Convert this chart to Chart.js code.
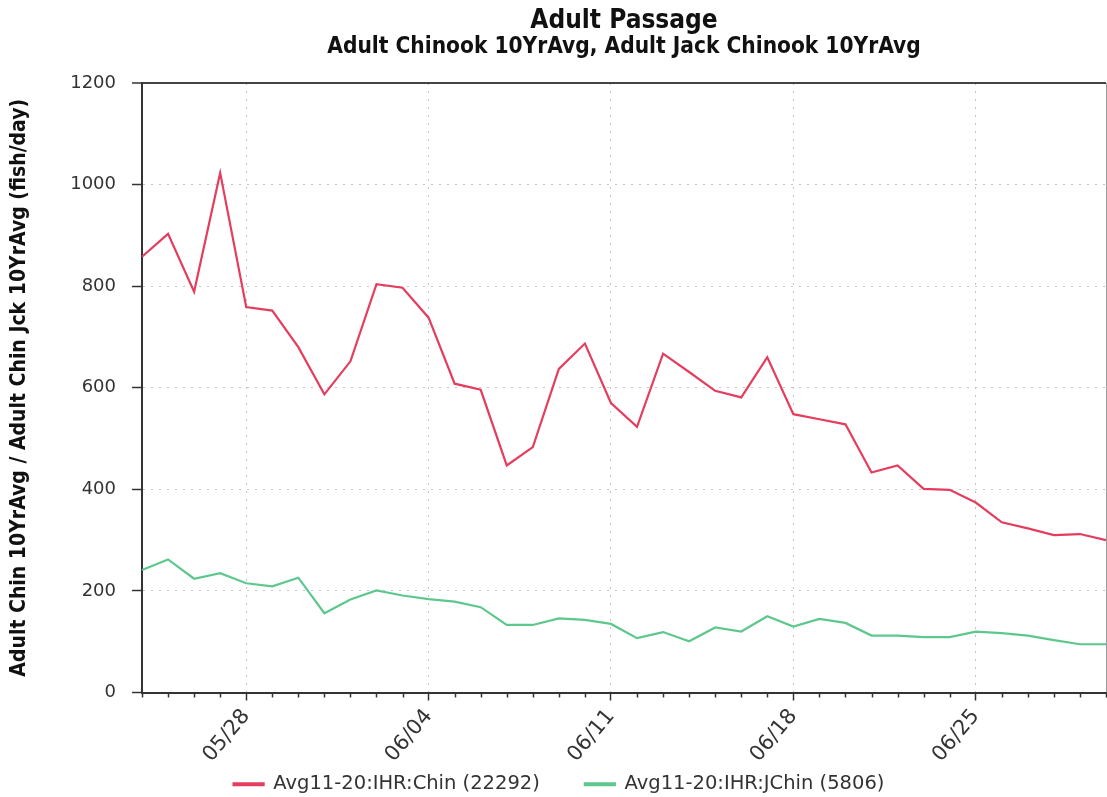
<!DOCTYPE html>
<html>
<head>
<meta charset="utf-8">
<script src="https://cdn.jsdelivr.net/npm/chart.js@4.4.0/dist/chart.umd.min.js"></script>
<style>
  html, body { margin: 0; padding: 0; background: #ffffff; }
  canvas { display: block; }
</style>
</head>
<body>
<canvas id="passage" width="1107" height="797"></canvas>
<script>
// Daily dates, 05/24 through 06/30
const days = [
  '05/24','05/25','05/26','05/27','05/28','05/29','05/30','05/31',
  '06/01','06/02','06/03','06/04','06/05','06/06','06/07','06/08',
  '06/09','06/10','06/11','06/12','06/13','06/14','06/15','06/16',
  '06/17','06/18','06/19','06/20','06/21','06/22','06/23','06/24',
  '06/25','06/26','06/27','06/28','06/29','06/30'
];

// Adult Chinook, 2011-2020 average (fish/day)
const chinook = [
  858, 903, 789, 1023, 759, 752, 680, 587,
  652, 804, 797, 738, 608, 596, 447, 483,
  637, 687, 570, 523, 667, 631, 594, 581,
  660, 548, 538, 528, 433, 447, 401, 399,
  374, 335, 323, 310, 312, 300
];

// Jack Chinook, 2011-2020 average (fish/day)
const jackChinook = [
  241, 262, 224, 235, 215, 209, 226, 156,
  183, 201, 191, 184, 179, 168, 133, 133,
  146, 143, 135, 107, 119, 101, 128, 120,
  150, 130, 145, 137, 112, 112, 109, 109,
  120, 117, 112, 103, 95, 95
];

// Dates that get a label, a long tick and a vertical grid line
const majorDays = ['05/28', '06/04', '06/11', '06/18', '06/25'];

const seriesNames = ['Avg11-20:IHR:Chin (22292)', 'Avg11-20:IHR:JChin (5806)'];
const yMin = 0, yMax = 1200, yStep = 200;

const RED = '#e43d5e';
const GREEN = '#5ec78e';
const SANS = "'DejaVu Sans', sans-serif";
const COND = "'DejaVu Sans Condensed', 'DejaVu Sans', sans-serif";

const isMajor = (i) => majorDays.includes(days[i]);

// Short daily ticks between the labelled dates
const minorTicks = {
  id: 'minorTicks',
  afterDraw(chart) {
    const xs = chart.scales.x;
    const ctx = chart.ctx;
    ctx.save();
    ctx.strokeStyle = '#333333';
    ctx.lineWidth = 1.5;
    xs.ticks.forEach((t, i) => {
      if (isMajor(i)) return;
      const px = Math.round(xs.getPixelForTick(i)) + 0.5;
      ctx.beginPath();
      ctx.moveTo(px, xs.top);
      ctx.lineTo(px, xs.top + 5);
      ctx.stroke();
    });
    ctx.restore();
  }
};

// The slanted date labels hang below the (short) x-axis box; let them
// draw past it instead of being clipped to it.
const unclipDateLabels = {
  id: 'unclipDateLabels',
  afterLayout(chart) {
    chart.scales.x._computeLabelArea = () => undefined;
  }
};

new Chart(document.getElementById('passage'), {
  type: 'line',
  data: {
    labels: days,
    datasets: [
      {
        label: seriesNames[0],
        data: chinook,
        borderColor: RED,
        backgroundColor: RED,
        borderWidth: 2.2,
        pointRadius: 0,
        tension: 0
      },
      {
        label: seriesNames[1],
        data: jackChinook,
        borderColor: GREEN,
        backgroundColor: GREEN,
        borderWidth: 2.2,
        pointRadius: 0,
        tension: 0
      }
    ]
  },
  options: {
    responsive: false,
    animation: false,
    layout: { padding: { left: 12, right: 1, top: 0, bottom: -7 } },
    plugins: {
      title: {
        display: true,
        text: 'Adult Passage',
        fullSize: false,
        color: '#111111',
        font: { family: COND, size: 26, weight: 'bold', lineHeight: 1.0 },
        padding: { top: 8, bottom: 0 }
      },
      subtitle: {
        display: true,
        text: 'Adult Chinook 10YrAvg, Adult Jack Chinook 10YrAvg',
        fullSize: false,
        color: '#111111',
        font: { family: COND, size: 22.5, weight: 'bold', lineHeight: 1.2 },
        padding: { top: 0, bottom: 22 }
      },
      legend: {
        position: 'bottom',
        labels: {
          boxWidth: 30,
          boxHeight: 2,
          padding: 45,
          color: '#333333',
          font: { family: SANS, size: 19.5 }
        }
      },
      tooltip: { enabled: false }
    },
    scales: {
      x: {
        offset: false,
        afterFit(scale) {
          scale.height = 37;
          scale.paddingLeft = 0;
          scale.paddingRight = 0;
        },
        border: {
          display: true,
          color: '#333333',
          width: 2,
          dash: (c) => (c.index === days.length - 1 ? [] : [2, 6])
        },
        grid: {
          drawOnChartArea: true,
          color: (c) => {
            if (c.index === days.length - 1) return '#9a9a9a';
            return isMajor(c.index) ? '#c4c4c4' : 'rgba(0,0,0,0)';
          },
          lineWidth: 1,
          tickColor: (c) => (isMajor(c.index) ? '#333333' : 'rgba(0,0,0,0)'),
          tickLength: 8,
          tickWidth: 1.5
        },
        ticks: {
          autoSkip: false,
          minRotation: 50,
          maxRotation: 50,
          padding: 4,
          color: '#333333',
          font: { family: SANS, size: 21 },
          callback: (v, i) => (isMajor(i) ? days[i] : '')
        }
      },
      y: {
        min: yMin,
        max: yMax,
        afterFit(scale) { scale.width = 130; },
        border: {
          display: true,
          color: '#333333',
          width: 2,
          dash: (c) => (c.tick && c.tick.value === yMax ? [] : [2, 6])
        },
        grid: {
          color: (c) => (c.tick && c.tick.value === yMax ? '#444444' : '#c4c4c4'),
          lineWidth: (c) => (c.tick && c.tick.value === yMax ? 2 : 1),
          tickColor: '#333333',
          tickLength: 10,
          tickWidth: 1.5
        },
        ticks: {
          stepSize: yStep,
          padding: 16,
          color: '#333333',
          font: { family: SANS, size: 18 },
          callback: (v) => String(v)
        },
        title: {
          display: true,
          text: 'Adult Chin 10YrAvg / Adult Chin Jck 10YrAvg (fish/day)',
          color: '#111111',
          font: { family: COND, size: 21, weight: 'bold', lineHeight: 1.0 },
          padding: { top: -3, bottom: 0 }
        }
      }
    }
  },
  plugins: [minorTicks, unclipDateLabels]
});
</script>
</body>
</html>
